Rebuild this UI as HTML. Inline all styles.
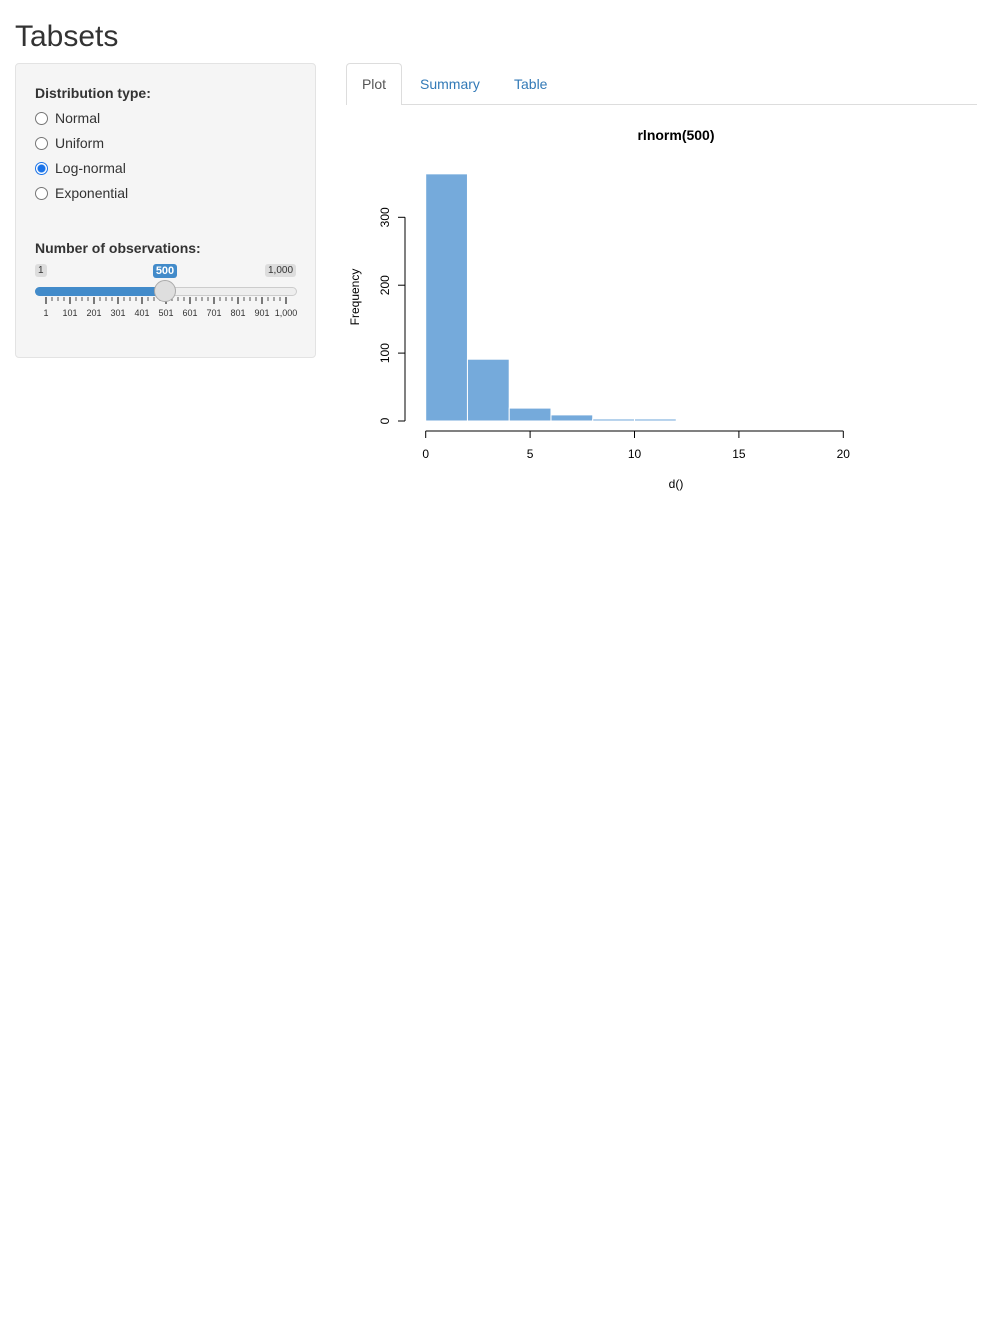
<!DOCTYPE html>
<html><head><meta charset="utf-8"><style>
body{margin:0;background:#fff;font-family:"Liberation Sans",Arial,sans-serif;color:#333;width:992px;height:1323px;position:relative;overflow:hidden}
.abs{position:absolute}
.radio{position:absolute;left:35px;font-size:14px;color:#333}
.radio i{display:inline-block;width:11px;height:11px;border:1px solid #767676;border-radius:50%;background:#fff;vertical-align:-2px;margin-right:7px;box-sizing:content-box}
.radio i.on{border-color:#1a73e8;background:radial-gradient(circle,#1a73e8 3.5px,#fff 4.5px)}
</style></head><body>
<div class="abs" style="left:15px;top:20px;font-size:30px;color:#333">Tabsets</div>
<div class="abs" style="left:15px;top:63px;width:299px;height:293px;background:#f5f5f5;border:1px solid #e3e3e3;border-radius:4px"></div>
<div class="abs" style="left:35px;top:85px;font-size:14px;font-weight:bold">Distribution type:</div>
<div class="radio" style="top:110px"><i></i>Normal</div>
<div class="radio" style="top:135px"><i></i>Uniform</div>
<div class="radio" style="top:160px"><i class="on"></i>Log-normal</div>
<div class="radio" style="top:185px"><i></i>Exponential</div>
<div class="abs" style="left:35px;top:240px;font-size:14px;font-weight:bold">Number of observations:</div>
<div class="abs" style="left:35px;top:264px;font-size:10px;background:#ddd;border-radius:3px;padding:1px 3px;color:#333">1</div>
<div class="abs" style="left:265px;top:264px;font-size:10px;background:#ddd;border-radius:3px;padding:1px 3px;color:#333">1,000</div>
<div class="abs" style="left:153px;top:264px;width:24px;text-align:center;font-size:11px;font-weight:bold;background:#428bca;color:#fff;border-radius:3px;padding:1px 0">500</div>
<div class="abs" style="left:35px;top:287px;width:260px;height:7px;background:#eee;border:1px solid #ccc;border-radius:5px"></div>
<div class="abs" style="left:35px;top:287px;width:130px;height:9px;background:#428bca;border-radius:5px 0 0 5px"></div>
<svg class="abs" style="left:0;top:0" width="320" height="330" id="grid"></svg>
<div class="abs" style="left:154px;top:280px;width:20px;height:20px;border-radius:50%;background:#dedede;border:1px solid #aaa"></div>

<div class="abs" style="left:346px;top:63px;width:54px;height:41px;border:1px solid #ddd;border-bottom:none;border-radius:4px 4px 0 0;background:#fff;font-size:14px;color:#555;text-align:center;line-height:41px;z-index:2">Plot</div>
<div class="abs" style="left:420px;top:76px;font-size:14px;color:#337ab7">Summary</div>
<div class="abs" style="left:514px;top:76px;font-size:14px;color:#337ab7">Table</div>
<div class="abs" style="left:346px;top:104px;width:631px;height:1px;background:#ddd"></div>

<svg class="abs" style="left:0;top:0" width="992" height="520" id="chart" font-family="Liberation Sans, Arial, sans-serif"></svg>
<script>
const binEdges=[0,2,4,6,8,10,12,14,16,18,20];
const counts=[364,91,19,9,3,3,0,0,0,0];
const xTicks=[0,5,10,15,20];
const yTicks=[0,100,200,300];
const sliderMajor=["1","101","201","301","401","501","601","701","801","901","1,000"];
const NS="http://www.w3.org/2000/svg";
function mk(p,t,a){const e=document.createElementNS(NS,t);for(const k in a)e.setAttribute(k,a[k]);p.appendChild(e);return e;}
const X=v=>425.7+v*20.88, Y=v=>421-v*0.679;
const c=document.getElementById('chart');
for(let i=0;i<counts.length;i++){
 const r=mk(c,'rect',{x:X(binEdges[i]),y:Y(counts[i]),width:X(binEdges[i+1])-X(binEdges[i]),height:Y(0)-Y(counts[i]),fill:'#75aadb',stroke:'#fff','stroke-width':1});
 
 
}
let l=mk(c,'line',{x1:X(0),x2:X(20),y1:431,y2:431,stroke:'#000'});

xTicks.forEach(v=>{mk(c,'line',{x1:X(v),x2:X(v),y1:431,y2:438,stroke:'#000'});
 const t=mk(c,'text',{x:X(v),y:458,'font-size':12,'text-anchor':'middle'});t.textContent=v;
 });
l=mk(c,'line',{x1:405,x2:405,y1:Y(0),y2:Y(300),stroke:'#000'});

yTicks.forEach(v=>{mk(c,'line',{x1:398,x2:405,y1:Y(v),y2:Y(v),stroke:'#000'});
 const t=mk(c,'text',{x:389,y:Y(v),'font-size':12,'text-anchor':'middle',transform:`rotate(-90 389 ${Y(v)})`});t.textContent=v;
 });
let t=mk(c,'text',{x:676,y:140,'font-size':14,'font-weight':'bold','text-anchor':'middle'});t.textContent='rlnorm(500)';

t=mk(c,'text',{x:676,y:488,'font-size':12,'text-anchor':'middle'});t.textContent='d()';

t=mk(c,'text',{x:359,y:297,'font-size':12,'text-anchor':'middle',transform:'rotate(-90 359 297)'});t.textContent='Frequency';

const g=document.getElementById('grid');
sliderMajor.forEach((s,i)=>{const x=46+i*24;
 mk(g,'line',{x1:x,x2:x,y1:297,y2:304,stroke:'#000'});
 if(i<10)for(let k=1;k<4;k++)mk(g,'line',{x1:x+k*6,x2:x+k*6,y1:297,y2:301,stroke:'#555'});
 const tt=mk(g,'text',{x:x,y:316,'font-size':9,'text-anchor':'middle',fill:'#333'});tt.textContent=s;
 });
</script>
</body></html>
